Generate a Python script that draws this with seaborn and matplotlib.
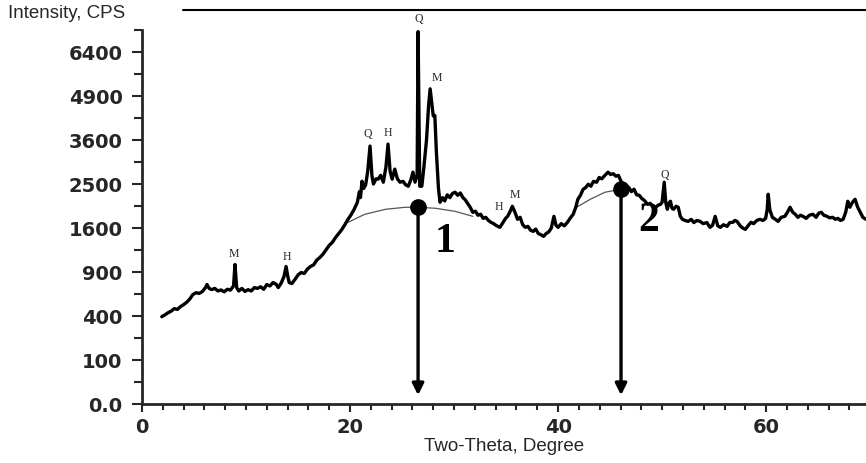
import numpy as np
import pandas as pd
import matplotlib
matplotlib.use("Agg")
import matplotlib.pyplot as plt
from matplotlib.lines import Line2D
import seaborn as sns

# XRD trace (2-theta in degrees, intensity in CPS)
two_theta = [1.9, 2.2, 2.5, 2.8, 3.1, 3.4, 3.7, 4.0, 4.3, 4.6,
             4.9, 5.2, 5.5, 5.8, 6.1, 6.25, 6.45, 6.7, 7.0, 7.3,
             7.6, 7.9, 8.2, 8.5, 8.8, 8.94, 9.1, 9.3, 9.6, 9.9,
             10.2, 10.5, 10.8, 11.1, 11.4, 11.7, 12.0, 12.3, 12.6, 12.9,
             13.1, 13.4, 13.65, 13.85, 14.0, 14.15, 14.4, 14.7, 15.0, 15.3,
             15.6, 15.9, 16.2, 16.5, 16.8, 17.1, 17.4, 17.7, 18.0, 18.3,
             18.6, 18.9, 19.2, 19.5, 19.8, 20.1, 20.4, 20.7, 20.9, 21.0,
             21.15, 21.3, 21.5, 21.7, 21.92, 22.1, 22.25, 22.5, 22.7, 22.95,
             23.2, 23.45, 23.65, 23.85, 24.05, 24.3, 24.55, 24.8, 25.1, 25.35,
             25.6, 25.85, 26.05, 26.25, 26.45, 26.54, 26.7, 26.9, 27.1, 27.35,
             27.55, 27.7, 27.85, 28.0, 28.15, 28.3, 28.5, 28.65, 28.9, 29.1,
             29.35, 29.6, 29.85, 30.1, 30.35, 30.6, 30.85, 31.05, 31.3, 31.55,
             31.8, 32.05, 32.3, 32.55, 32.8, 33.05, 33.3, 33.55, 33.8, 34.1,
             34.4, 34.7, 34.95, 35.15, 35.4, 35.6, 35.85, 36.1, 36.35, 36.6,
             36.85, 37.1, 37.35, 37.6, 37.85, 38.1, 38.35, 38.6, 38.85, 39.1,
             39.35, 39.6, 39.8, 40.0, 40.3, 40.6, 40.9, 41.15, 41.45, 41.7,
             41.9, 42.15, 42.4, 42.65, 42.9, 43.15, 43.4, 43.7, 43.95, 44.2,
             44.5, 44.8, 45.05, 45.3, 45.55, 45.8, 46.05, 46.3, 46.55, 46.8,
             47.05, 47.3, 47.55, 47.8, 48.05, 48.3, 48.6, 48.85, 49.1, 49.35,
             49.6, 49.85, 50.0, 50.2, 50.35, 50.5, 50.65, 50.8, 50.95, 51.1,
             51.35, 51.55, 51.75, 51.95, 52.2, 52.5, 52.8, 53.05, 53.35, 53.65,
             53.95, 54.3, 54.6, 54.85, 55.1, 55.35, 55.6, 55.9, 56.25, 56.5,
             56.8, 57.0, 57.2, 57.5, 57.75, 58.0, 58.3, 58.55, 58.8, 59.1,
             59.4, 59.7, 59.95, 60.1, 60.2, 60.35, 60.6, 60.9, 61.15, 61.45,
             61.8, 62.05, 62.3, 62.55, 62.8, 63.05, 63.3, 63.55, 63.85, 64.15,
             64.5, 64.8, 65.05, 65.3, 65.55, 65.85, 66.1, 66.4, 66.65, 66.9,
             67.15, 67.4, 67.65, 67.85, 68.05, 68.3, 68.55, 68.8, 69.05, 69.3,
             69.6]
counts = [394, 410, 430, 445, 470, 462, 490, 510, 535, 570,
          620, 640, 632, 653, 700, 737, 690, 676, 690, 660,
          672, 650, 680, 670, 720, 1005, 700, 660, 690, 655,
          675, 660, 700, 690, 710, 680, 737, 720, 762, 740,
          700, 760, 840, 977, 850, 762, 749, 800, 860, 893,
          880, 940, 977, 1000, 1070, 1109, 1160, 1230, 1300, 1350,
          1430, 1500, 1570, 1660, 1762, 1850, 1960, 2100, 2330, 2200,
          2564, 2400, 2480, 2800, 3437, 2700, 2500, 2620, 2611, 2700,
          2541, 2900, 3490, 2800, 2611, 2849, 2620, 2541, 2560, 2480,
          2450, 2600, 2776, 2541, 2700, 7161, 2450, 2450, 2900, 3600,
          4600, 5130, 4700, 4286, 4300, 3278, 2400, 2102, 2200, 2130,
          2260, 2200, 2290, 2316, 2250, 2300, 2200, 2160, 2080, 2000,
          1898, 1920, 1840, 1860, 1780, 1800, 1740, 1705, 1680, 1640,
          1612, 1700, 1780, 1819, 1920, 2019, 1900, 1762, 1800, 1660,
          1612, 1630, 1560, 1539, 1580, 1500, 1480, 1451, 1500, 1530,
          1600, 1819, 1650, 1612, 1680, 1640, 1705, 1780, 1859, 2000,
          2165, 2250, 2380, 2420, 2495, 2450, 2560, 2541, 2650, 2620,
          2700, 2776, 2720, 2740, 2681, 2700, 2560, 2495, 2450, 2420,
          2330, 2383, 2260, 2250, 2180, 2140, 2060, 2080, 2020, 1990,
          2040, 2060, 2102, 2541, 2100, 1958, 2080, 2123, 1980, 1958,
          2020, 1999, 1820, 1762, 1740, 1723, 1760, 1700, 1740, 1723,
          1680, 1700, 1612, 1650, 1819, 1640, 1612, 1660, 1630, 1700,
          1705, 1740, 1723, 1640, 1600, 1575, 1650, 1705, 1680, 1740,
          1762, 1740, 1780, 1950, 2273, 1950, 1800, 1760, 1723, 1800,
          1819, 1900, 1999, 1900, 1859, 1800, 1840, 1819, 1780, 1840,
          1859, 1800, 1880, 1898, 1840, 1819, 1790, 1800, 1762, 1780,
          1740, 1762, 1900, 2123, 2000, 2102, 2165, 2000, 1898, 1800,
          1762]

# amorphous humps (thin grey background curves)
hump1_theta = [19.8, 21.4, 23.4, 25.3, 26.5, 28.2, 30.1, 31.8]
hump1_counts = [1704, 1858, 1958, 1999, 1999, 1979, 1917, 1819]
hump2_theta = [41.6, 43.1, 44.5, 46.05]
hump2_counts = [1979, 2165, 2316, 2383]

# hump maxima marked with dots and arrows
marker_names = ["1", "2"]
marker_theta = [26.54, 46.05]
marker_counts = [1999, 2383]
marker_text_theta = [29.13, 48.75]
marker_text_counts = [1348, 1723]

# phase labels
phase_labels = ["M", "H", "Q", "H", "Q", "M", "H", "M", "Q"]
phase_theta = [8.85, 13.94, 21.73, 23.65, 26.63, 28.37, 34.33, 35.87, 50.3]
phase_counts = [1155, 1109, 3765, 3793, 7673, 5495, 1999, 2251, 2705]

y_ticks = [0, 100, 400, 900, 1600, 2500, 3600, 4900, 6400]
y_tick_labels = ["0.0", "100", "400", "900", "1600", "2500", "3600", "4900", "6400"]
x_ticks = [0, 20, 40, 60]

trace = pd.DataFrame({"two_theta": two_theta, "counts": counts})

sns.set_style("ticks")
plt.rcParams["font.family"] = ["DejaVu Sans"]

fig = plt.figure(figsize=(8.66, 4.63), dpi=100)
ax = fig.add_axes([142 / 866, 59 / 463, 1 - 142 / 866, 374 / 463])

sqrt_fwd = lambda v: np.sqrt(np.clip(v, 0, None))
ax.set_yscale("function", functions=(sqrt_fwd, np.square))

sns.lineplot(data=trace, x="two_theta", y="counts", ax=ax, color="black",
             linewidth=2.4, sort=False, estimator=None)
ax.plot(hump1_theta, hump1_counts, color="#555555", linewidth=0.9, zorder=1)
ax.plot(hump2_theta, hump2_counts, color="#555555", linewidth=0.9, zorder=1)

for name, x, y, tx, ty in zip(marker_names, marker_theta, marker_counts,
                              marker_text_theta, marker_text_counts):
    ax.annotate("", xy=(x, 4), xytext=(x, y),
                arrowprops=dict(arrowstyle="-|>", color="black", lw=2.4,
                                mutation_scale=17, shrinkA=0, shrinkB=0))
    ax.plot([x], [y], "o", color="black", markersize=11, zorder=5)
    ax.text(tx, ty, name, fontsize=30, fontweight="bold", family="Liberation Serif",
            color="black", ha="center", va="center")

for lab, x, y in zip(phase_labels, phase_theta, phase_counts):
    ax.text(x, y, lab, fontsize=8.5, family="Liberation Serif", ha="center",
            va="center", clip_on=False)

ax.set_xlim(0, 69.6)
ax.set_ylim(0, 7225)
ax.set_yticks(y_ticks)
ax.set_yticklabels(y_tick_labels)
ax.set_yticks([25, 225, 625, 1225, 2025, 3025, 4225, 5625, 7225], minor=True)
ax.set_xticks(x_ticks)
ax.set_xticks(np.arange(0, 70, 2), minor=True)

for lab in ax.get_xticklabels() + ax.get_yticklabels():
    lab.set_fontweight("bold")
    lab.set_fontsize(14)

ax.tick_params(axis="y", which="major", length=7, width=1.5, pad=7)
ax.tick_params(axis="y", which="minor", length=6, width=1.5)
ax.tick_params(axis="x", which="major", length=6, width=1.5, pad=4)
ax.tick_params(axis="x", which="minor", length=4, width=1.5)

sns.despine(ax=ax)
for side in ["left", "bottom"]:
    ax.spines[side].set_linewidth(2)

ax.set_xlabel("Two-Theta, Degree", fontsize=13.5, family="Liberation Sans", labelpad=1)
ax.set_ylabel("")
fig.text(8 / 866, 1 - 14 / 463, "Intensity, CPS", fontsize=13.5, family="Liberation Sans",
         ha="left", va="center")
fig.add_artist(Line2D([183 / 866, 1.0], [1 - 10 / 463, 1 - 10 / 463],
                      transform=fig.transFigure, color="black", linewidth=1.5))

fig.savefig("out.png", dpi=100)
